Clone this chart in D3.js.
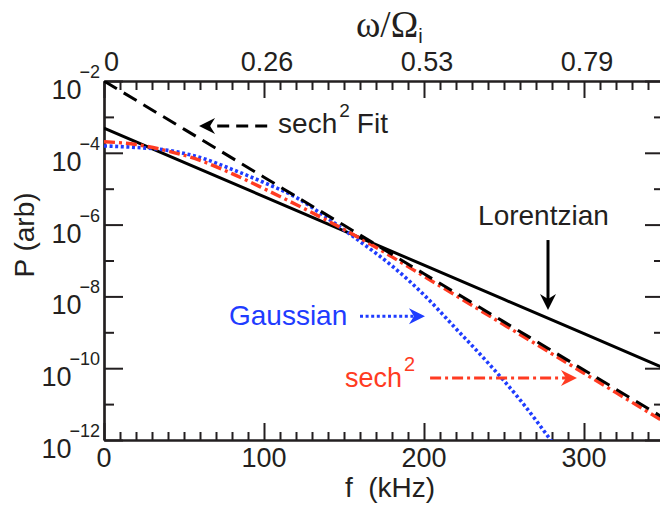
<!DOCTYPE html>
<html><head><meta charset="utf-8">
<script src="https://cdn.jsdelivr.net/npm/d3@7"></script>
<style>
body{margin:0;background:#fff;}
svg{display:block;}
text{font-family:"Liberation Sans",Arial,Helvetica,sans-serif;fill:#231f20;}
</style>
</head><body>
<svg id="chart" width="660" height="510"></svg>
<script>
// ---------------- data ----------------
const fitFreq = [0, 50, 100, 150, 200, 250, 300, 350];            // kHz
const fitP = [1.0e-2, 4.57e-4, 2.09e-5, 9.55e-7, 4.27e-8, 1.95e-9, 8.91e-11, 4.07e-12]; // sech^2 Fit
const lorentzFreq = [0, 50, 100, 150, 200, 250, 300, 350];
const lorentzP = [4.90e-4, 5.43e-5, 6.03e-6, 6.68e-7, 7.41e-8, 8.22e-9, 9.12e-10, 1.01e-10];
const gaussFreq = [0, 20, 40, 60, 80, 100, 120, 140, 160, 180, 200, 220, 240, 260, 280];
const gaussP = [1.55e-4, 1.41e-4, 1.17e-4, 7.41e-5, 3.47e-5, 1.48e-5, 5.75e-6, 1.48e-6, 3.39e-7, 7.08e-8, 1.10e-8, 1.26e-9, 1.41e-10, 1.32e-11, 8.9e-13];
const sechFreq = [0, 20, 40, 60, 80, 100, 120, 140, 160, 180, 200, 220, 240, 260, 280, 300, 320, 350];
const sechP = [2.04e-4, 1.70e-4, 1.12e-4, 6.17e-5, 2.63e-5, 1.00e-5, 3.63e-6, 1.26e-6, 4.17e-7, 1.26e-7, 3.63e-8, 1.05e-8, 3.02e-9, 8.71e-10, 2.51e-10, 7.24e-11, 2.09e-11, 3.24e-12];

const xMajorTicks = [0, 100, 200, 300];
const xMinorTicks = d3.range(0, 351, 10).filter(v => v % 100 !== 0);
const topTickLabels = ["0", "0.26", "0.53", "0.79"];   // omega / Omega_i
const yMajorExp = [-2, -4, -6, -8, -10, -12];
const yMinorExp = [-3, -5, -7, -9, -11];

// ---------------- layout ----------------
const svg = d3.select("#chart");
const x = d3.scaleLinear().domain([0, 350]).range([104, 664]);
const y = d3.scaleLog().domain([1e-12, 1e-2]).range([440, 81]);
const X0 = x.range()[0], X1 = x.range()[1], YB = y.range()[0], YT = y.range()[1];
const ink = "#231f20";
const red = "#ff3b22", blue = "#1f3cff";

svg.append("clipPath").attr("id", "plotclip").append("rect")
  .attr("x", X0).attr("y", YT).attr("width", X1 - X0).attr("height", YB - YT);

// ---------------- axes ----------------
function styleAxis(g) {
  g.select(".domain").attr("stroke", ink).attr("stroke-width", 2.2);
  g.selectAll(".tick line").attr("stroke", ink).attr("stroke-width", 2);
  g.selectAll(".tick text").remove();
}
// bottom
svg.append("g").attr("transform", `translate(0,${YB})`)
  .call(d3.axisBottom(x).tickValues(xMajorTicks).tickSizeInner(-17).tickSizeOuter(0)).call(styleAxis);
svg.append("g").attr("transform", `translate(0,${YB})`)
  .call(d3.axisBottom(x).tickValues(xMinorTicks).tickSizeInner(-8).tickSizeOuter(0)).call(styleAxis);
// top
svg.append("g").attr("transform", `translate(0,${YT})`)
  .call(d3.axisTop(x).tickValues(xMajorTicks).tickSizeInner(-17).tickSizeOuter(0)).call(styleAxis);
svg.append("g").attr("transform", `translate(0,${YT})`)
  .call(d3.axisTop(x).tickValues(xMinorTicks).tickSizeInner(-9).tickSizeOuter(0)).call(styleAxis);
// left
svg.append("g").attr("transform", `translate(${X0},0)`)
  .call(d3.axisLeft(y).tickValues(yMajorExp.map(e => Math.pow(10, e))).tickSizeInner(-19).tickSizeOuter(0)).call(styleAxis);
svg.append("g").attr("transform", `translate(${X0},0)`)
  .call(d3.axisLeft(y).tickValues(yMinorExp.map(e => Math.pow(10, e))).tickSizeInner(-10).tickSizeOuter(0)).call(styleAxis);
// right
svg.append("g").attr("transform", `translate(${X1},0)`)
  .call(d3.axisRight(y).tickValues(yMajorExp.map(e => Math.pow(10, e))).tickSizeInner(-19).tickSizeOuter(0)).call(styleAxis);
svg.append("g").attr("transform", `translate(${X1},0)`)
  .call(d3.axisRight(y).tickValues(yMinorExp.map(e => Math.pow(10, e))).tickSizeInner(-10).tickSizeOuter(0)).call(styleAxis);

// tick labels
const fs = 27;
svg.append("g").selectAll("text").data(xMajorTicks).join("text")
  .attr("x", d => x(d)).attr("y", YB + 27).attr("text-anchor", "middle")
  .attr("font-size", fs).text(d => d);
svg.append("g").selectAll("text").data(xMajorTicks).join("text")
  .attr("x", (d, i) => i === 0 ? x(d) : x(d) + 3).attr("y", YT - 10)
  .attr("text-anchor", (d, i) => i === 0 ? "start" : "middle")
  .attr("font-size", fs).text((d, i) => topTickLabels[i]);
const yl = svg.append("g").selectAll("text").data(yMajorExp).join("text")
  .attr("x", 100).attr("y", d => y(Math.pow(10, d)) + 18).attr("text-anchor", "end")
  .attr("font-size", fs);
yl.append("tspan").text("10");
yl.append("tspan").attr("dx", -2).attr("dy", -21).attr("font-size", 18).text(d => "\u2212" + Math.abs(d));

// axis titles
svg.append("text").attr("x", 390).attr("y", 497).attr("text-anchor", "middle")
  .attr("font-size", 28).attr("xml:space", "preserve").text("f  (kHz)");
svg.append("text").attr("transform", "translate(34,235) rotate(-90)").attr("text-anchor", "middle")
  .attr("font-size", 28).text("P (arb)");
const tt = svg.append("text").attr("x", 356).attr("y", 37).attr("font-size", 37);
tt.append("tspan").style("font-family", "'Liberation Serif','Times New Roman',serif").text("\u03C9/\u03A9");
tt.append("tspan").attr("dy", 6).attr("font-size", 20).text("i");

// ---------------- curves ----------------
const plot = svg.append("g").attr("clip-path", "url(#plotclip)");
function series(freq, vals) { return freq.map((f, i) => ({ f, p: vals[i] })); }
const smooth = d3.line().x(d => x(d.f)).y(d => y(d.p)).curve(d3.curveMonotoneX);
const straight = d3.line().x(d => x(d.f)).y(d => y(d.p));

plot.append("path").attr("d", straight(series(lorentzFreq, lorentzP)))
  .attr("fill", "none").attr("stroke", "#000").attr("stroke-width", 3);
plot.append("path").attr("d", smooth(series(gaussFreq, gaussP)))
  .attr("fill", "none").attr("stroke", blue).attr("stroke-width", 3.6).attr("stroke-dasharray", "3,2.6");
plot.append("path").attr("d", smooth(series(sechFreq, sechP)))
  .attr("fill", "none").attr("stroke", red).attr("stroke-width", 3.4).attr("stroke-dasharray", "11,4,3,4");
plot.append("path").attr("d", straight(series(fitFreq, fitP)))
  .attr("fill", "none").attr("stroke", "#000").attr("stroke-width", 3).attr("stroke-dasharray", "15,8");

// ---------------- annotations ----------------
function arrow(x1, y1, x2, y2, color, dash) {
  const dx = x2 - x1, dy = y2 - y1, len = Math.hypot(dx, dy);
  const ux = dx / len, uy = dy / len, nx = -uy, ny = ux;
  const L = 16, W = 8, N = 11;
  svg.append("line").attr("x1", x1).attr("y1", y1)
    .attr("x2", x2 - ux * N).attr("y2", y2 - uy * N)
    .attr("stroke", color).attr("stroke-width", 3).attr("stroke-dasharray", dash || null);
  const p = d3.path();
  p.moveTo(x2, y2);
  p.lineTo(x2 - ux * L + nx * W, y2 - uy * L + ny * W);
  p.lineTo(x2 - ux * N, y2 - uy * N);
  p.lineTo(x2 - ux * L - nx * W, y2 - uy * L - ny * W);
  p.closePath();
  svg.append("path").attr("d", p.toString()).attr("fill", color);
}
// sech^2 Fit
arrow(x(102), y(Math.pow(10, -3.25)), x(59.4), y(Math.pow(10, -3.25)), "#000", "12,7");
const t1 = svg.append("text").attr("x", x(108.8)).attr("y", y(Math.pow(10, -3.45))).attr("font-size", 28);
t1.append("tspan").text("sech");
t1.append("tspan").attr("dy", -16).attr("dx", 2).attr("font-size", 19).text("2");
t1.append("tspan").attr("dy", 16).attr("dx", 7).text("Fit");
// Lorentzian
svg.append("text").attr("x", x(233.8)).attr("y", y(Math.pow(10, -6.01))).attr("font-size", 28).text("Lorentzian");
arrow(x(277.5), y(Math.pow(10, -6.43)), x(277.5), y(Math.pow(10, -8.38)), "#000");
// Gaussian
svg.append("text").attr("x", x(78.1)).attr("y", y(Math.pow(10, -8.80))).attr("font-size", 28)
  .style("fill", blue).text("Gaussian");
arrow(x(160), y(Math.pow(10, -8.55)), x(200.6), y(Math.pow(10, -8.55)), blue, "3,2.6");
// sech^2
const t2 = svg.append("text").attr("x", x(150.6)).attr("y", y(Math.pow(10, -10.52))).attr("font-size", 27).style("fill", red);
t2.append("tspan").text("sech");
t2.append("tspan").attr("dy", -16).attr("dx", 2).attr("font-size", 20).text("2");
arrow(x(203.8), y(Math.pow(10, -10.27)), x(295.6), y(Math.pow(10, -10.27)), red, "11,4,3,4");
</script>
</body></html>
